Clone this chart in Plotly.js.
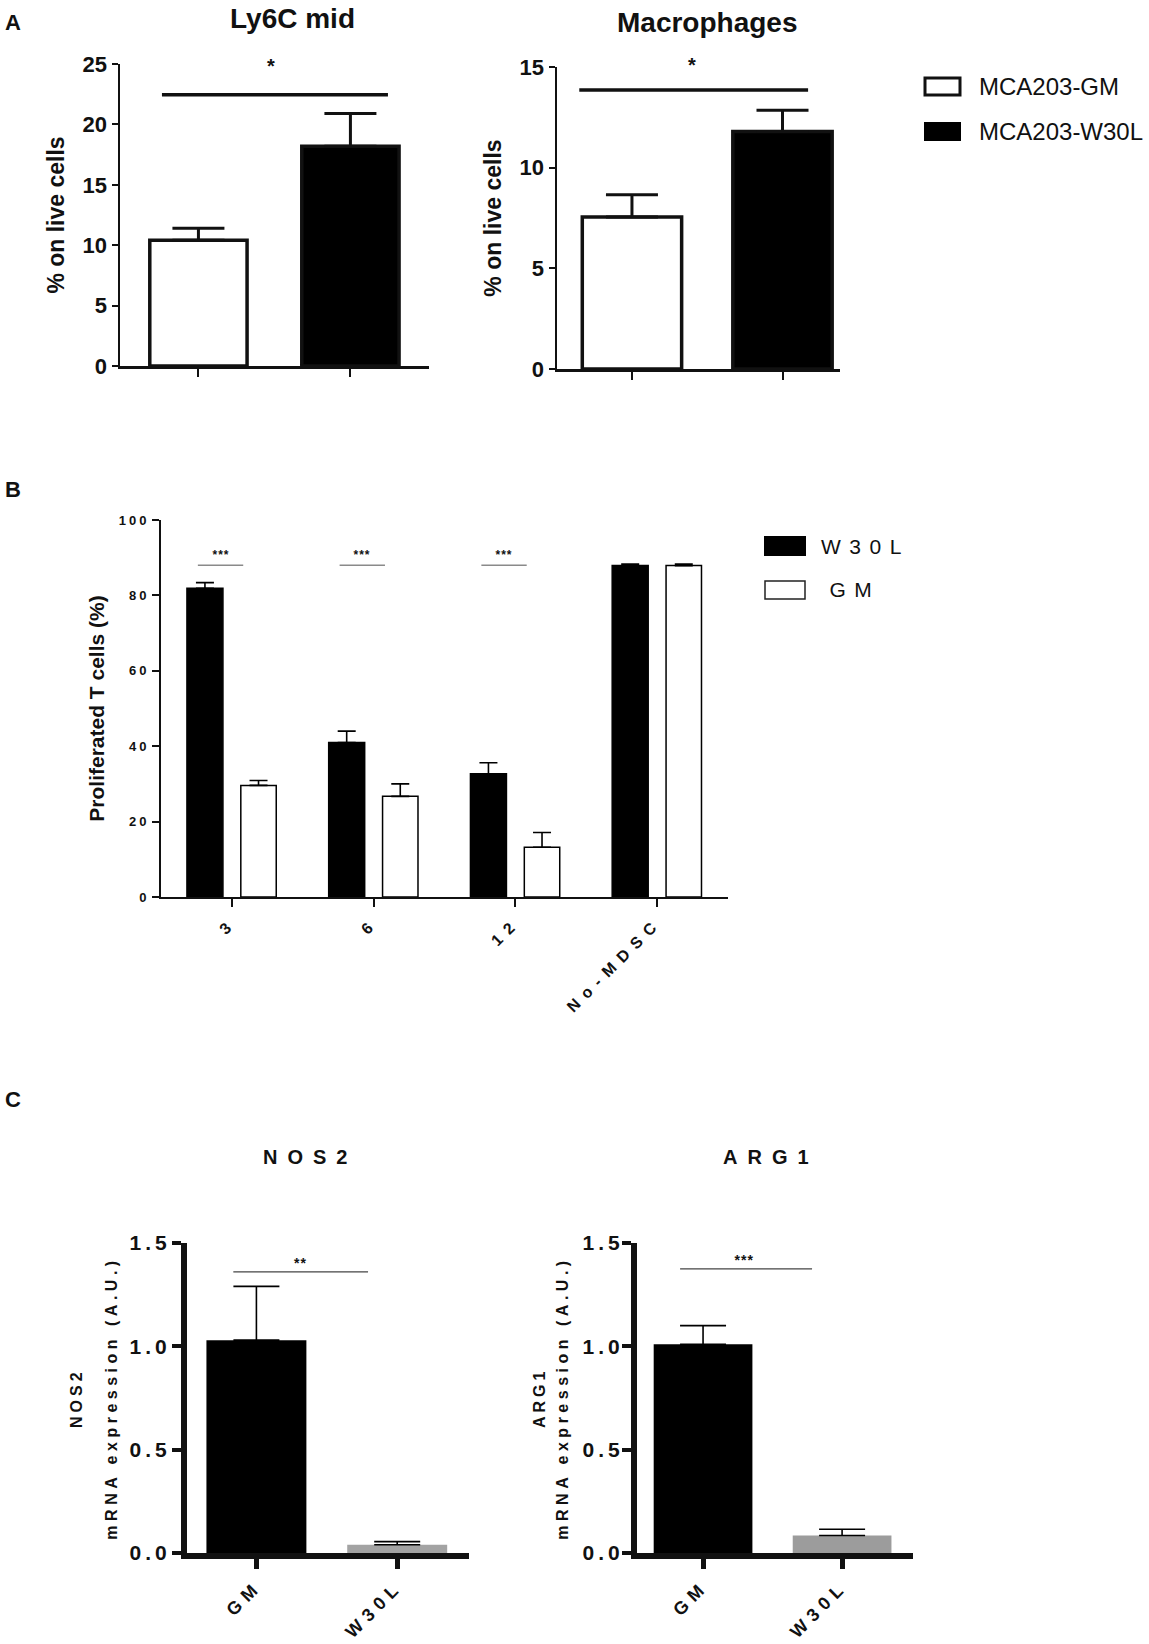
<!DOCTYPE html>
<html>
<head>
<meta charset="utf-8">
<script src="https://cdn.plot.ly/plotly-3.0.1.min.js"></script>
<style>
html,body{margin:0;padding:0;background:#ffffff;}
#chart{width:1149px;height:1644px;}
g.x3tick text{letter-spacing:7.5px;}
g.y3tick text{letter-spacing:3px;}
g.x4tick text,g.x5tick text{letter-spacing:6px;}
g.y4tick text,g.y5tick text{letter-spacing:4px;}
text.y4title,text.y5title{letter-spacing:4.5px;}
</style>
</head>
<body>
<div id="chart"></div>
<script>
// ---------------- data ----------------
// Panel A
const groupsA = ['MCA203-GM', 'MCA203-W30L'];
const ly6cMid = [10.4, 18.2];
const ly6cMidErr = [1.0, 2.7];
const macrophages = [7.55, 11.8];
const macrophagesErr = [1.1, 1.05];
const sigA = ['*', '*'];

// Panel B
const doseB = ['3', '6', '12', 'No-MDSC'];
const seriesB = ['W30L', 'GM'];
const prolifW30L = [81.9, 41.0, 32.7, 87.9];
const prolifW30LErr = [1.5, 3.0, 2.9, 0.4];
const prolifGM = [29.6, 26.7, 13.2, 87.9];
const prolifGMErr = [1.3, 3.3, 3.9, 0.4];
const sigB = ['***', '***', '***'];

// Panel C
const groupsC = ['GM', 'W30L'];
const nos2 = [1.03, 0.04];
const nos2Err = [0.26, 0.015];
const arg1 = [1.01, 0.085];
const arg1Err = [0.09, 0.03];
const sigC = ['**', '***'];
const genesC = ['NOS2', 'ARG1'];

const noLower2 = [0, 0];
const noLower4 = [0, 0, 0, 0];

// ---------------- helpers ----------------
const W = 1149, H = 1644;
const X = p => p / W;
const Y = p => 1 - p / H;
const FONT = 'Liberation Sans, Arial, Helvetica, sans-serif';
const INK = '#111111';

// ---------------- traces ----------------
const traces = [
  {type: 'bar', x: groupsA, y: ly6cMid, xaxis: 'x', yaxis: 'y', width: 0.64, offset: -0.32,
   marker: {color: ['#ffffff', '#000000'], line: {color: INK, width: 3.5}},
   error_y: {type: 'data', symmetric: false, array: ly6cMidErr, arrayminus: noLower2, color: INK, thickness: 3, width: 26},
   showlegend: false, hoverinfo: 'skip'},
  {type: 'bar', x: groupsA, y: macrophages, xaxis: 'x2', yaxis: 'y2', width: 0.66, offset: -0.33,
   marker: {color: ['#ffffff', '#000000'], line: {color: INK, width: 3.5}},
   error_y: {type: 'data', symmetric: false, array: macrophagesErr, arrayminus: noLower2, color: INK, thickness: 3, width: 26},
   showlegend: false, hoverinfo: 'skip'},
  {type: 'bar', name: seriesB[0], x: doseB, y: prolifW30L, xaxis: 'x3', yaxis: 'y3', width: 0.254, offset: -0.317,
   marker: {color: '#000000', line: {color: '#000000', width: 1.5}},
   error_y: {type: 'data', symmetric: false, array: prolifW30LErr, arrayminus: noLower4, color: '#000', thickness: 1.6, width: 9},
   showlegend: false, hoverinfo: 'skip'},
  {type: 'bar', name: seriesB[1], x: doseB, y: prolifGM, xaxis: 'x3', yaxis: 'y3', width: 0.25, offset: 0.063,
   marker: {color: '#ffffff', line: {color: '#000000', width: 1.5}},
   error_y: {type: 'data', symmetric: false, array: prolifGMErr, arrayminus: noLower4, color: '#000', thickness: 1.6, width: 9},
   showlegend: false, hoverinfo: 'skip'},
  {type: 'bar', x: groupsC, y: nos2, xaxis: 'x4', yaxis: 'y4', width: 0.71, offset: -0.355,
   marker: {color: ['#000000', '#a3a3a3'], line: {width: 0}},
   error_y: {type: 'data', symmetric: false, array: nos2Err, arrayminus: noLower2, color: '#000', thickness: 1.6, width: 23},
   showlegend: false, hoverinfo: 'skip'},
  {type: 'bar', x: groupsC, y: arg1, xaxis: 'x5', yaxis: 'y5', width: 0.71, offset: -0.355,
   marker: {color: ['#000000', '#9c9c9c'], line: {width: 0}},
   error_y: {type: 'data', symmetric: false, array: arg1Err, arrayminus: noLower2, color: '#000', thickness: 1.6, width: 23},
   showlegend: false, hoverinfo: 'skip'}
];

// ---------------- axes ----------------
function xAx(domain, anchor, range, lw, tlen, twid, tickfont, angle, showLabels) {
  return {domain: domain, anchor: anchor, type: 'category', range: range,
    showline: true, linewidth: lw, linecolor: INK, ticks: 'outside', ticklen: tlen, tickwidth: twid, tickcolor: INK,
    showticklabels: showLabels, tickfont: tickfont, tickangle: angle,
    showgrid: false, zeroline: false, fixedrange: true};
}
function yAx(domain, anchor, range, dtick, lw, tlen, twid, tickfont, title, tfmt) {
  return {domain: domain, anchor: anchor, range: range, dtick: dtick, tick0: 0, tickformat: tfmt || '',
    showline: true, linewidth: lw, linecolor: INK, ticks: 'outside', ticklen: tlen, tickwidth: twid, tickcolor: INK,
    tickfont: tickfont, title: title, showgrid: false, zeroline: false, fixedrange: true};
}

const tfA = {family: FONT, size: 22, color: INK, weight: 'bold'};
const ttA = {family: FONT, size: 23, color: INK, weight: 'bold'};
const tfB = {family: FONT, size: 13, color: INK, weight: 'bold'};
const tfBx = {family: FONT, size: 16, color: INK, weight: 'bold'};
const tfC = {family: FONT, size: 21, color: INK, weight: 'bold'};
const tfCx = {family: FONT, size: 18, color: INK, weight: 'bold'};
const ttC = {family: FONT, size: 16, color: INK, weight: 'bold'};

const yC4 = yAx([Y(1553), Y(1243)], 'x4', [0, 1.5], 0.5, 6, 9, 4, tfC, {text: 'mRNA expression (A.U.)', font: ttC, standoff: 10}, '.1f');
const yC5 = yAx([Y(1553), Y(1243)], 'x5', [0, 1.5], 0.5, 6, 9, 4, tfC, {text: 'mRNA expression (A.U.)', font: ttC, standoff: 12}, '.1f');
yC4.ticklabelstandoff = -3;
yC5.ticklabelstandoff = -6;

const layout = {
  width: W, height: H,
  margin: {l: 0, r: 0, t: 0, b: 0},
  paper_bgcolor: '#ffffff', plot_bgcolor: 'rgba(0,0,0,0)',
  showlegend: false, barmode: 'group',
  xaxis: xAx([X(120), X(429)], 'y', [-0.516, 1.517], 2.5, 8, 2, tfA, 0, false),
  yaxis: yAx([Y(366), Y(64)], 'x', [0, 25], 5, 2.5, 6, 2, tfA, {text: '% on live cells', font: ttA, standoff: 12}),
  xaxis2: xAx([X(557), X(840)], 'y2', [-0.498, 1.382], 2.5, 8, 2, tfA, 0, false),
  yaxis2: yAx([Y(369), Y(67)], 'x2', [0, 15], 5, 2.5, 6, 2, tfA, {text: '% on live cells', font: ttA, standoff: 12}),
  xaxis3: xAx([X(161), X(728)], 'y3', [-0.5, 3.5], 2, 8, 2, tfBx, -45, true),
  yaxis3: yAx([Y(897), Y(520)], 'x3', [0, 100], 20, 2, 7, 2, tfB, {text: 'Proliferated T cells (%)', font: {family: FONT, size: 21, color: INK, weight: 'bold'}, standoff: 8}),
  xaxis4: xAx([X(187), X(469)], 'y4', [-0.493, 1.51], 6, 10, 5, tfCx, -45, true),
  yaxis4: yC4,
  xaxis5: xAx([X(637), X(913)], 'y5', [-0.475, 1.51], 6, 10, 5, tfCx, -45, true),
  yaxis5: yC5,
  shapes: [],
  annotations: []
};

// ---------------- annotations & shapes ----------------
const spacing = [];
function ann(o, ls) {
  const a = Object.assign({showarrow: false}, o);
  layout.annotations.push(a);
  if (ls) spacing.push([layout.annotations.length - 1, ls]);
}
function paperText(text, x, y, size, bold, xanchor, ls, extra) {
  ann(Object.assign({text: text, xref: 'paper', yref: 'paper', x: X(x), y: Y(y), xanchor: xanchor || 'center', yanchor: 'middle',
    font: {family: FONT, size: size, color: INK, weight: bold ? 'bold' : 'normal'}}, extra || {}), ls);
}

// panel letters
paperText('A', 3, 23, 22, true, 'left');
paperText('B', 3, 489, 22, true, 'left');
paperText('C', 3, 1099, 22, true, 'left');

// panel A titles
paperText('Ly6C mid', 292, 19, 28, true);
paperText('Macrophages', 707, 22, 28, true);

// panel A legend
layout.shapes.push({type: 'rect', xref: 'paper', yref: 'paper', x0: X(925), x1: X(960), y0: Y(78), y1: Y(95), fillcolor: '#ffffff', line: {color: INK, width: 3}});
layout.shapes.push({type: 'rect', xref: 'paper', yref: 'paper', x0: X(924), x1: X(961), y0: Y(122), y1: Y(141), fillcolor: '#000000', line: {color: '#000', width: 0}});
paperText(groupsA[0], 977, 86.5, 24, false, 'left');
paperText(groupsA[1], 977, 131.5, 24, false, 'left');

// panel A significance
const sigLevelA = [22.45, 13.86];
layout.shapes.push({type: 'line', xref: 'x', yref: 'y', x0: -0.24, x1: 1.247, y0: sigLevelA[0], y1: sigLevelA[0], line: {color: INK, width: 3.5}});
layout.shapes.push({type: 'line', xref: 'x2', yref: 'y2', x0: -0.35, x1: 1.17, y0: sigLevelA[1], y1: sigLevelA[1], line: {color: INK, width: 3.5}});
ann({text: sigA[0], xref: 'x', yref: 'y', x: 0.48, y: sigLevelA[0], xanchor: 'center', yanchor: 'bottom', yshift: 16, font: {family: FONT, size: 20, color: INK, weight: 'bold'}});
ann({text: sigA[1], xref: 'x2', yref: 'y2', x: 0.40, y: sigLevelA[1], xanchor: 'center', yanchor: 'bottom', yshift: 12, font: {family: FONT, size: 20, color: INK, weight: 'bold'}});

// panel B legend
layout.shapes.push({type: 'rect', xref: 'paper', yref: 'paper', x0: X(764), x1: X(806), y0: Y(536), y1: Y(556), fillcolor: '#000000', line: {color: '#000', width: 0}});
layout.shapes.push({type: 'rect', xref: 'paper', yref: 'paper', x0: X(765), x1: X(805), y0: Y(581), y1: Y(599), fillcolor: '#ffffff', line: {color: '#222', width: 1.5}});
paperText(seriesB[0], 836, 546, 21, false, 'left', 8.5);
paperText(seriesB[1], 836, 590, 21, false, 'left', 8.5);

// panel B significance
sigB.forEach(function (s, i) {
  layout.shapes.push({type: 'line', xref: 'x3', yref: 'y3', x0: i - 0.24, x1: i + 0.08, y0: 88, y1: 88, line: {color: '#8a8a8a', width: 1.3}});
  ann({text: s, xref: 'x3', yref: 'y3', x: i - 0.08, y: 90.6, xanchor: 'center', yanchor: 'middle', font: {family: FONT, size: 12, color: INK, weight: 'bold'}}, 1);
});

// panel C titles and gene labels
paperText(genesC[0], 310, 1157, 20, true, 'center', 10);
paperText(genesC[1], 771, 1157, 20, true, 'center', 10);
paperText(genesC[0], 76, 1398, 16, true, 'center', 4, {textangle: -90});
paperText(genesC[1], 539, 1398, 16, true, 'center', 4, {textangle: -90});

// panel C significance
layout.shapes.push({type: 'line', xref: 'x4', yref: 'y4', x0: -0.164, x1: 0.793, y0: 1.36, y1: 1.36, line: {color: '#444', width: 1.3}});
layout.shapes.push({type: 'line', xref: 'x5', yref: 'y5', x0: -0.165, x1: 0.784, y0: 1.375, y1: 1.375, line: {color: '#444', width: 1.3}});
ann({text: sigC[0], xref: 'x4', yref: 'y4', x: 0.31, y: 1.405, xanchor: 'center', yanchor: 'middle', font: {family: FONT, size: 14, color: INK, weight: 'bold'}}, 1);
ann({text: sigC[1], xref: 'x5', yref: 'y5', x: 0.30, y: 1.42, xanchor: 'center', yanchor: 'middle', font: {family: FONT, size: 14, color: INK, weight: 'bold'}}, 1);

// letter spacing rules for annotations
const st = document.createElement('style');
st.textContent = spacing.map(function (p) {
  return 'g.annotation[data-index="' + p[0] + '"] text{letter-spacing:' + p[1] + 'px;}';
}).join('\n');
document.head.appendChild(st);

Plotly.newPlot('chart', traces, layout, {staticPlot: true, displayModeBar: false});
</script>
</body>
</html>
